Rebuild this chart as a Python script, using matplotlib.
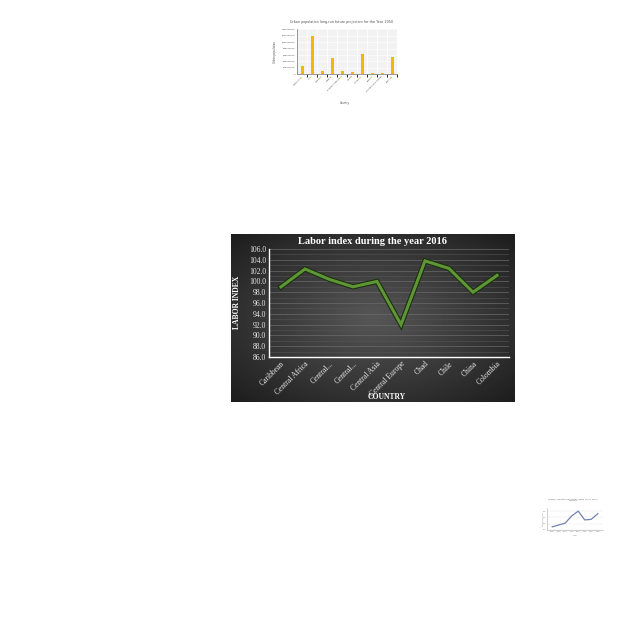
import numpy as np
import matplotlib
matplotlib.use("Agg")
import matplotlib.pyplot as plt
import matplotlib.patheffects as pe

# -- 메인 차트: Labor index 2016 --
countries = ["Caribbean", "Central Africa", "Central...", "Central...", "Central Asia",
             "Central Europe", "Chad", "Chile", "China", "Colombia"]
labor_index = [99.0, 102.3, 100.4, 99.0, 100.0, 92.0, 103.8, 102.4, 98.0, 101.1]

# -- 상단 차트: Urban population 2050 --
urban_countries = ["Afghanistan", "India", "Jamaica", "Nigeria", "Russian Federation",
                   "Jordan", "Indonesia", "Bhutan", "Trinidad and Tobago", "Pakistan"]
urban_pop = [270e6, 1190e6, 110e6, 500e6, 100e6, 70e6, 620e6, 30e6, 30e6, 540e6]

# -- 하단 차트: Median sex ratio --
ratio_years = ["1990", "1995", "2000", "2005", "2010", "2015", "2020", "2025"]
ratio_vals = [101.0, 101.6, 102.2, 104.5, 106.0, 103.2, 103.4, 105.2]

serif = ["Liberation Serif", "DejaVu Serif"]

fig = plt.figure(figsize=(6.4, 6.4), dpi=100)
fig.patch.set_facecolor("white")

# ── 메인 패널 배경 (radial gradient) ────────────────────────────
bg = fig.add_axes([231 / 640, 1 - 402 / 640, 284 / 640, 168 / 640])
yy, xx = np.mgrid[-1:1:200j, -1:1:300j]
rr = np.sqrt(xx ** 2 + yy ** 2)
bg.imshow(0.34 - 0.16 * rr, cmap="gray", vmin=0, vmax=1, aspect="auto",
          extent=[0, 1, 0, 1])
bg.set_axis_off()

ax = fig.add_axes([269 / 640, 1 - 357 / 640, 240 / 640, 108 / 640])
ax.set_facecolor("none")
x = np.arange(len(countries))
ax.plot(x, labor_index, color="#5e9636", linewidth=2.2, solid_joinstyle="miter",
        path_effects=[pe.Stroke(linewidth=3.8, foreground="#1c3010"), pe.Normal()])
ax.set_xlim(-0.5, len(countries) - 0.5)
ax.set_ylim(86, 106)
ax.set_yticks(np.arange(86, 106.1, 2))
ax.set_yticklabels([f"{v:.1f}" for v in np.arange(86, 106.1, 2)],
                   fontsize=5.5, color="#e6e6e6", family=serif)
ax.set_yticks(np.arange(87, 106, 2), minor=True)
ax.set_xticks(x)
ax.set_xticklabels(countries, rotation=45, ha="right", rotation_mode="anchor",
                   fontsize=5.5, color="#e6e6e6", family=serif)
ax.tick_params(length=0, pad=2)
ax.tick_params(which="minor", length=0)
ax.grid(axis="y", which="major", color="#6a6a6a", linewidth=0.5)
ax.grid(axis="y", which="minor", color="#555555", linewidth=0.4)
for side in ["top", "right"]:
    ax.spines[side].set_visible(False)
for side in ["left", "bottom"]:
    ax.spines[side].set_color("white")
    ax.spines[side].set_linewidth(1.0)
fig.text(372 / 640, 1 - 241.5 / 640, "Labor index during the year 2016",
         ha="center", va="center", fontsize=7.5, fontweight="bold", color="white",
         family=serif)
fig.text(237 / 640, 1 - 302 / 640, "LABOR INDEX", rotation=90, ha="center",
         va="center", fontsize=5.5, fontweight="bold", color="white", family=serif)
fig.text(387 / 640, 1 - 397 / 640, "COUNTRY", ha="center", va="center",
         fontsize=5.5, fontweight="bold", color="white", family=serif)

# ── 상단 막대 차트 ──────────────────────────────────────────────
ax2 = fig.add_axes([297 / 640, 1 - 74.3 / 640, 100 / 640, 45 / 640])
ax2.set_facecolor("#f2f2f2")
xb = np.arange(len(urban_countries))
ax2.bar(xb, urban_pop, width=0.3, color="#f5b800", zorder=3)
ax2.set_xlim(-0.5, len(urban_countries) - 0.5)
ax2.set_ylim(0, 1.4e9)
ax2.set_yticks(np.arange(0, 1.41e9, 2e8))
ax2.set_yticklabels([f"{int(v)}" for v in np.arange(0, 1.41e9, 2e8)],
                    fontsize=1.6, color="#444444")
ax2.set_xticks(xb)
ax2.set_xticklabels(urban_countries, rotation=45, ha="right", rotation_mode="anchor",
                    fontsize=1.6, color="#444444")
ax2.tick_params(length=0, pad=1)
ax2.set_xticks(xb + 0.5, minor=True)
ax2.grid(axis="x", which="minor", color="white", linewidth=0.6)
ax2.grid(axis="y", which="major", color="white", linewidth=0.4)
for side in ["top", "right"]:
    ax2.spines[side].set_visible(False)
ax2.spines["left"].set_color("#888888")
ax2.spines["left"].set_linewidth(0.6)
ax2.spines["bottom"].set_color("#888888")
ax2.spines["bottom"].set_linewidth(0.6)
fig.text(342 / 640, 1 - 22.3 / 640,
         "Urban population long-run future projection for the Year 2050",
         ha="center", va="center", fontsize=2.4, color="#555555")
fig.text(275 / 640, 1 - 52 / 640, "Urban population", rotation=90, ha="center",
         va="center", fontsize=1.8, color="#444444")
fig.text(345 / 640, 1 - 103 / 640, "Country", ha="center", va="center",
         fontsize=1.8, color="#444444")

# ── 하단 우측 작은 꺾은선 차트 ──────────────────────────────────
ax3 = fig.add_axes([547 / 640, 1 - 530 / 640, 56 / 640, 22 / 640])
ax3.set_facecolor("white")
xl = np.arange(len(ratio_years))
ax3.plot(xl, ratio_vals, color="#7482b0", linewidth=0.9)
ax3.set_xlim(-0.8, len(ratio_years) - 0.2)
ax3.set_ylim(100, 107)
ax3.set_yticks([100, 102, 104, 106])
ax3.set_yticklabels(["100", "102", "104", "106"], fontsize=1.3, color="#666666")
ax3.set_xticks(xl)
ax3.set_xticklabels(ratio_years, fontsize=1.3, color="#666666")
ax3.tick_params(length=0, pad=0.8)
ax3.grid(axis="y", color="#e6e6e6", linewidth=0.3)
for side in ["top", "right"]:
    ax3.spines[side].set_visible(False)
ax3.spines["left"].set_color("#aaaaaa")
ax3.spines["left"].set_linewidth(0.4)
ax3.spines["bottom"].set_color("#aaaaaa")
ax3.spines["bottom"].set_linewidth(0.4)
fig.text(573 / 640, 1 - 500 / 640, "Graph: Median Sex Ratio ages 15 to 29 in\ncountry",
         ha="center", va="center", fontsize=1.7, color="#666666", linespacing=1.3)
fig.text(575 / 640, 1 - 535.5 / 640, "Year", ha="center", va="center",
         fontsize=1.3, color="#888888")
fig.text(543 / 640, 1 - 519 / 640, "Median Sex Ratio", rotation=90, ha="center",
         va="center", fontsize=1.2, color="#888888")

plt.savefig("out.png", dpi=100)
